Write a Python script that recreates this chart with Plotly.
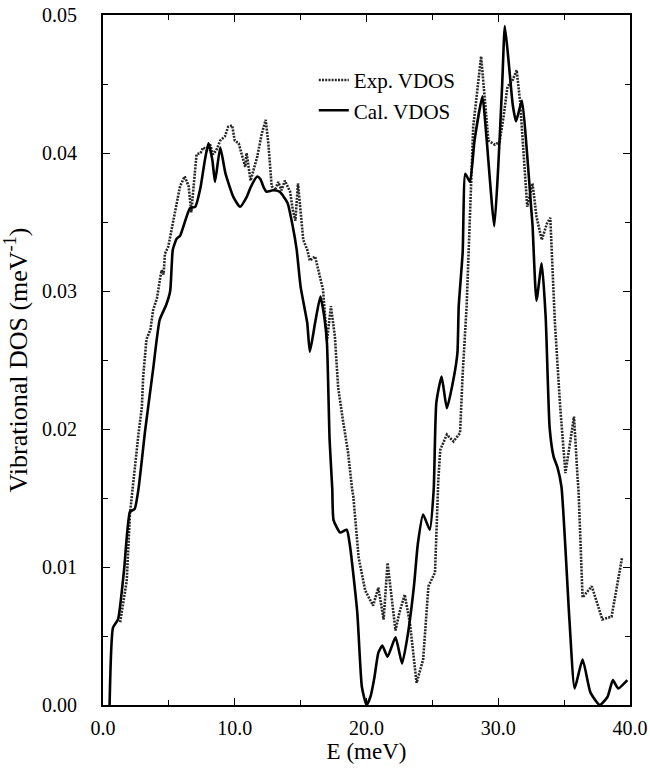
import plotly.graph_objects as go

# Calculated vibrational density of states (solid curve)
E_cal = [0.5, 0.76, 1.14, 1.6, 2.05, 2.4, 2.7, 3.2, 3.8, 4.3, 4.8, 5.1, 5.3, 5.6, 5.85,
         6.6, 7.0, 7.4, 7.7, 8.0, 8.3, 8.5, 8.9, 9.3, 9.9, 10.4, 10.9, 11.2, 11.7, 11.95,
         12.2, 12.4, 12.9, 13.4, 14.0, 14.4, 14.7, 15.0, 15.5, 15.7, 16.1, 16.5, 16.8,
         17.0, 17.2, 17.4, 17.5, 18.0, 18.5, 18.75, 19.3, 19.65, 20.0, 20.3, 20.6, 20.9,
         21.2, 21.6, 22.2, 22.7, 23.1, 23.6, 23.9, 24.3, 24.8, 25.1, 25.3, 25.7, 26.1,
         26.6, 26.9, 27.0, 27.3, 27.5, 27.85, 28.2, 28.8, 29.1, 29.7, 30.0, 30.3, 30.5,
         30.8, 31.1, 31.35, 31.8, 32.2, 32.5, 32.6, 32.9, 33.3, 33.6, 33.9, 34.2, 34.5,
         34.8, 35.4, 35.8, 36.4, 37.0, 37.7, 38.3, 38.7, 39.1, 39.8]
D_cal = [0.0, 0.0056, 0.0062, 0.0098, 0.0140, 0.0142, 0.0157, 0.0199, 0.0243, 0.0279,
         0.0290, 0.0300, 0.0330, 0.0338, 0.0340, 0.0360, 0.0361, 0.0375, 0.0393, 0.0407,
         0.0395, 0.0379, 0.0404, 0.0385, 0.0368, 0.0361, 0.0368, 0.0375, 0.0383, 0.0381,
         0.0375, 0.0372, 0.0373, 0.0372, 0.0364, 0.0347, 0.0330, 0.0303, 0.0277, 0.0256,
         0.0277, 0.0296, 0.0281, 0.0262, 0.0192, 0.0157, 0.0134, 0.0125, 0.0127, 0.0115,
         0.0067, 0.0013, 0.0, 0.0006, 0.0020, 0.0038, 0.0043, 0.0035, 0.0049, 0.0030,
         0.0049, 0.0086, 0.0117, 0.0138, 0.0127, 0.0156, 0.0219, 0.0238, 0.0215, 0.0236,
         0.0255, 0.0289, 0.0328, 0.0385, 0.0379, 0.0409, 0.0441, 0.0412, 0.0347, 0.0390,
         0.0450, 0.0492, 0.0465, 0.0435, 0.0423, 0.0438, 0.0398, 0.0360, 0.0348, 0.0293,
         0.0320, 0.0281, 0.0201, 0.0180, 0.0172, 0.0158, 0.0062, 0.0012, 0.0033, 0.0009,
         0.0, 0.0006, 0.0018, 0.0012, 0.0018]

# Experimental vibrational density of states (dotted curve)
E_exp = [1.3, 1.8, 2.05, 2.3, 2.7, 2.95, 3.05, 3.3, 3.6, 3.8, 4.1, 4.35, 4.45, 4.6, 4.7,
         4.95, 5.2, 5.6, 5.85, 6.2, 6.5, 6.7, 7.1, 7.4, 7.6, 7.9, 8.1, 8.35, 8.6, 8.9,
         9.25, 9.5, 9.8, 10.0, 10.3, 10.5, 10.8, 10.9, 11.2, 11.7, 12.05, 12.35, 12.55,
         12.8, 13.05, 13.3, 13.55, 13.8, 14.2, 14.4, 14.6, 14.8, 15.0, 15.2, 15.5, 15.7,
         16.1, 16.5, 16.7, 17.0, 17.3, 17.6, 17.85, 18.2, 18.6, 18.9, 19.0, 19.4, 19.9,
         20.5, 20.9, 21.3, 21.6, 22.2, 22.5, 22.9, 23.3, 23.8, 24.3, 24.7, 25.2, 25.45,
         25.6, 26.1, 26.6, 27.1, 27.3, 27.6, 27.8, 27.85, 28.1, 28.7, 29.0, 29.25, 29.75,
         30.1, 30.4, 30.7, 31.1, 31.4, 31.65, 31.9, 32.2, 32.6, 32.9, 33.3, 33.7, 33.95,
         34.1, 34.3, 34.7, 35.1, 35.4, 35.75, 36.0, 36.1, 36.4, 37.1, 37.9, 38.6, 39.4]
D_exp = [0.0060, 0.0090, 0.0139, 0.0163, 0.0197, 0.0216, 0.0238, 0.0265, 0.0272, 0.0286,
         0.0295, 0.0310, 0.0315, 0.0312, 0.0327, 0.0332, 0.0344, 0.0364, 0.0376, 0.0383,
         0.0376, 0.0357, 0.0399, 0.0400, 0.0404, 0.0402, 0.0407, 0.0399, 0.0402, 0.0409,
         0.0412, 0.0419, 0.0420, 0.0409, 0.0407, 0.0400, 0.0390, 0.0400, 0.0380, 0.0397,
         0.0414, 0.0424, 0.0407, 0.0376, 0.0373, 0.0379, 0.0373, 0.0380, 0.0372, 0.0359,
         0.0351, 0.0378, 0.0360, 0.0337, 0.0330, 0.0322, 0.0325, 0.0308, 0.0301, 0.0264,
         0.0289, 0.0267, 0.0230, 0.0207, 0.0183, 0.0157, 0.0151, 0.0107, 0.0083, 0.0072,
         0.0085, 0.0062, 0.0103, 0.0054, 0.0067, 0.0080, 0.0059, 0.0016, 0.0033, 0.0086,
         0.0096, 0.0163, 0.0185, 0.0196, 0.0191, 0.0197, 0.0240, 0.0289, 0.0337, 0.0356,
         0.0419, 0.0470, 0.0438, 0.0409, 0.0406, 0.0408, 0.0426, 0.0448, 0.0453, 0.0460,
         0.0438, 0.0402, 0.0361, 0.0378, 0.0354, 0.0337, 0.0349, 0.0353, 0.0322, 0.0277,
         0.0216, 0.0168, 0.0187, 0.0209, 0.0168, 0.0154, 0.0078, 0.0086, 0.0062, 0.0064,
         0.0107]

SERIF = "'Times New Roman', 'Liberation Serif', serif"

fig = go.Figure()
fig.add_trace(go.Scatter(
    x=E_exp, y=D_exp, mode="lines", name="Exp. VDOS",
    line=dict(color="#262626", width=2.6, dash="2px,1.2px"),
))
fig.add_trace(go.Scatter(
    x=E_cal, y=D_cal, mode="lines", name="Cal. VDOS",
    line=dict(color="black", width=2.6, shape="spline", smoothing=0.5),
))

axis_common = dict(
    showline=True, linecolor="black", linewidth=2, mirror="ticks",
    showgrid=False, zeroline=False,
    ticks="inside", ticklen=7, tickwidth=1, tickcolor="black",
    tickfont=dict(family=SERIF, size=20, color="black"),
)

fig.update_xaxes(
    range=[0, 40], tickvals=[0, 10, 20, 30, 40], tickformat=".1f",
    minor=dict(ticks="inside", ticklen=5, tickcolor="black", dtick=5, tick0=0),
    title=dict(text="E (meV)", font=dict(family=SERIF, size=23, color="black"),
               standoff=4),
    ticklabelstandoff=4,
    **axis_common,
)
fig.update_yaxes(
    range=[0, 0.05], tickvals=[0, 0.01, 0.02, 0.03, 0.04, 0.05], tickformat=".2f",
    minor=dict(ticks="inside", ticklen=5, tickcolor="black", dtick=0.005, tick0=0),
    title=dict(text="Vibrational DOS (meV<sup>-1</sup>)",
               font=dict(family=SERIF, size=26, color="black"), standoff=12),
    ticklabelstandoff=20,
    **axis_common,
)

fig.update_layout(
    width=650, height=770,
    margin=dict(l=103, r=20, t=15, b=65, autoexpand=False),
    plot_bgcolor="white", paper_bgcolor="white",
    font=dict(family=SERIF, color="black"),
    legend=dict(
        x=0.40, y=0.935, xanchor="left", yanchor="top",
        bgcolor="rgba(0,0,0,0)", borderwidth=0,
        font=dict(family=SERIF, size=21, color="black"),
        tracegroupgap=0,
    ),
)

fig.write_html("out.html")
